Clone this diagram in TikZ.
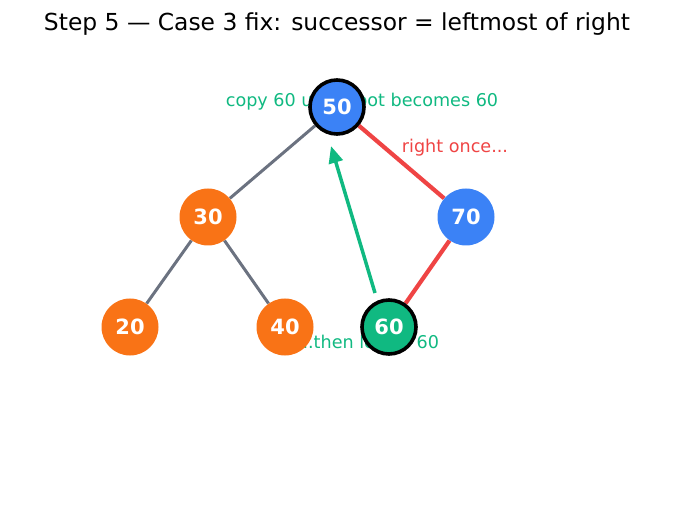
\documentclass[tikz,border=0pt]{standalone}
\usepackage{fontspec}
\setmainfont{DejaVu Sans}
\usepackage{tikz}
\usetikzlibrary{arrows.meta,backgrounds}
\definecolor{nodeblue}{HTML}{3B82F6}
\definecolor{nodeorange}{HTML}{F97316}
\definecolor{nodegreen}{HTML}{10B981}
\definecolor{edgegray}{HTML}{6B7280}
\definecolor{edgered}{HTML}{EF4444}
\newcommand{\clrleft}{nodeorange}
\newcommand{\clrright}{nodeblue}
\newcommand{\clrsucc}{nodegreen}

\begin{document}
\begin{tikzpicture}[x=1pt, y=-1pt,
    key/.style={circle, minimum size=57pt, inner sep=0pt, text=white,
        font=\fontsize{21}{24}\selectfont\bfseries},
    marked/.style={draw=black, line width=3.6pt, minimum size=54pt},
    note/.style={font=\fontsize{17.6}{20}\selectfont}]
    \useasboundingbox (0,0) rectangle (674,510);
    \node[font=\fontsize{23.4}{26}\selectfont] (title) at (337,24)
        {Step 5 — Case 3 fix: successor = leftmost of right};
%keys
    \node[key, marked, fill=\clrright] (k50) at (337,107) {50};
    \node[key, fill=\clrleft] (k30) at (208,217) {30};
    \node[key, fill=\clrright] (k70) at (466,217) {70};
    \foreach \v/\x in {20/130,40/285} {
        \node[key, fill=\clrleft] (k\v) at (\x,327) {\v};
    }
    \node[key, marked, fill=\clrsucc] (k60) at (389,327) {60};
%edges
    \begin{scope}[on background layer]
        \foreach \a/\b in {50/30,30/20,30/40} {
            \draw[edgegray, line width=3pt] (k\a) -- (k\b);
        }
        \draw[edgered, line width=4.2pt] (k50) -- (k70) -- (k60);
        \node[note, text=nodegreen] (copyup) at (362,102) {copy 60 up → root becomes 60};
        \node[note, text=edgered] (rightonce) at (455,148) {right once...};
        \node[note, text=nodegreen] (thenleft) at (368,342) {...then left to 60};
        \coordinate (from) at (375,293);
        \coordinate (to) at (331,146);
        \draw[nodegreen, line width=3.5pt, -{Triangle[length=17pt, width=14pt]}] (from) -- (to);
    \end{scope}
\end{tikzpicture}
\end{document}
